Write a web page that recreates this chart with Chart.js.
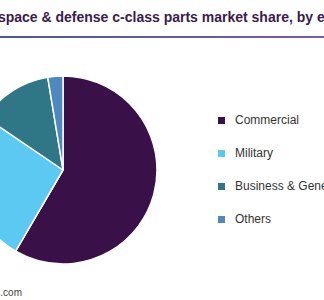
<!DOCTYPE html>
<html>
<head>
<meta charset="utf-8">
<script src="https://cdn.jsdelivr.net/npm/chart.js@4/dist/chart.umd.min.js"></script>
<style>
    html, body { margin: 0; padding: 0; background: #fff; }
    body { width: 324px; height: 300px; position: relative; overflow: hidden; font-family: 'Liberation Sans', Arial, sans-serif; }
    #title { position: absolute; left: -34px; top: 9px; white-space: nowrap; font-weight: bold; font-size: 14px; color: #3b1a4e; }
    #rule { position: absolute; left: 0; top: 36px; width: 324px; height: 2px; background: linear-gradient(to right, #4a56a8, #7a5bb0); }
    #pieWrap { position: absolute; left: -37px; top: 70px; width: 200px; height: 200px; }
    #legend { position: absolute; left: 218px; top: 112px; }
    .item { position: relative; height: 33px; font-size: 12px; color: #333; white-space: nowrap; }
    .swatch { position: absolute; left: 0; top: 5px; width: 7px; height: 7px; }
    .label { position: absolute; left: 17px; top: 1px; }
    #source { position: absolute; right: 302px; top: 287px; font-size: 10px; color: #444; white-space: nowrap; }
</style>
</head>
<body>
<div id="title">Aerospace &amp; defense c-class parts market share, by end-use, 2019 (%)</div>
<div id="rule"></div>
<div id="pieWrap"><canvas id="pieChart"></canvas></div>
<div id="legend"></div>
<div id="source">Source: www.grandviewresearch.com</div>

<script>
// end-use segments
const categories = ['Commercial', 'Military', 'Business & General Aviation', 'Others'];
const shares = [58.4, 26.1, 12.9, 2.6];
const colors = ['#3a1048', '#5bc9f1', '#2f7686', '#4d88bf'];

function renderLegend() {
    const container = document.getElementById('legend');
    container.innerHTML = categories.map((name, i) => `
        <div class="item">
            <div class="swatch" style="background: ${colors[i]};"></div>
            <div class="label">${name}</div>
        </div>
    `).join('');
}

function renderPie() {
    const ctx = document.getElementById('pieChart');
    new Chart(ctx, {
        type: 'pie',
        data: {
            labels: categories,
            datasets: [{
                data: shares,
                backgroundColor: colors,
                borderColor: '#fff',
                borderWidth: 1.5
            }]
        },
        options: {
            responsive: true,
            maintainAspectRatio: false,
            animation: false,
            radius: 94,
            layout: { padding: 0 },
            plugins: {
                legend: { display: false },
                tooltip: { enabled: false }
            }
        }
    });
}

renderLegend();
renderPie();
</script>
</body>
</html>
